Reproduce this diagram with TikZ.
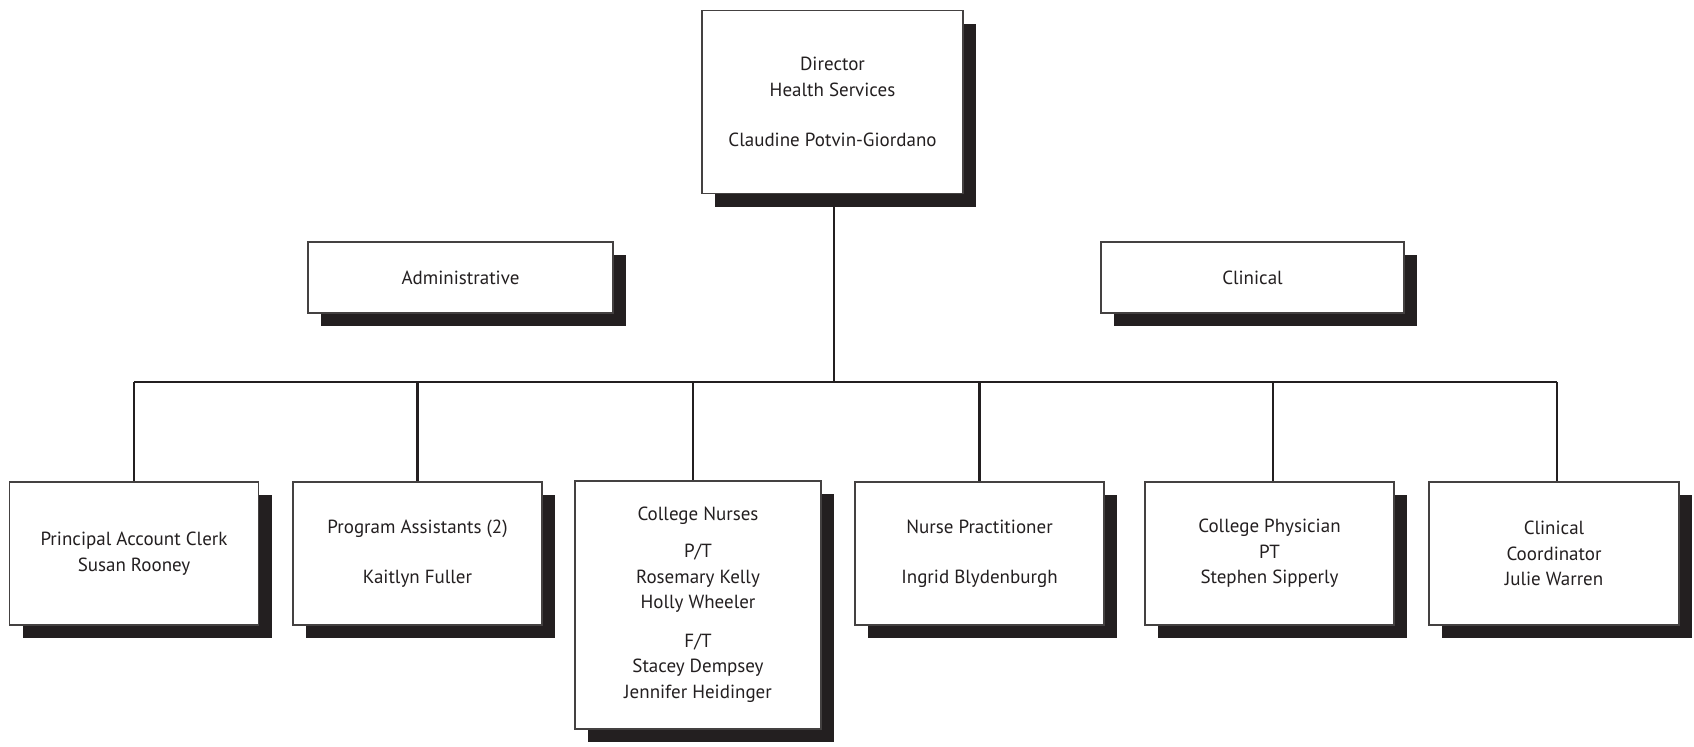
\documentclass[tikz,border=0pt]{standalone}
\usepackage{fontspec}
\setmainfont{PT Sans}
\usetikzlibrary{shadows}
\definecolor{ink}{HTML}{231F20}

\begin{document}
\begin{tikzpicture}[x=0.5pt, y=-0.5pt,
  orgbox/.style={draw=ink!85, line width=0.8pt, fill=white, text=ink, align=center,
    font=\fontsize{9.5}{12.8}\selectfont, inner sep=2pt,
    minimum width=124.5pt, minimum height=71.5pt,
    drop shadow={shadow xshift=6.5pt, shadow yshift=-6.5pt, fill=ink, opacity=1}},
  link/.style={draw=ink, line width=1.2pt}]
\useasboundingbox (0,0) rectangle (1694,746);
% top
\node[orgbox, minimum width=130.5pt, minimum height=91.5pt] (dir) at (832.5,102)
  {Director\\Health Services\\[12.4pt]Claudine Potvin-Giordano};
\node[orgbox, minimum width=152.5pt, minimum height=35.5pt] (admin) at (460.5,277.5) {Administrative};
\node[orgbox, minimum width=151.5pt, minimum height=35.5pt] (clin) at (1252.5,277.5) {Clinical};
% bottom row
\node[orgbox] (clerk) at (134,553.5) {Principal Account Clerk\\Susan Rooney};
\node[orgbox] (assist) at (417.5,553.5) {Program Assistants (2)\\[12.4pt]Kaitlyn Fuller};
\node[orgbox, minimum width=123pt, minimum height=124pt] (nurses) at (698,605)
  {College Nurses\\[5.6pt]P/T\\Rosemary Kelly\\Holly Wheeler\\[6.4pt]F/T\\Stacey Dempsey\\Jennifer Heidinger};
\node[orgbox] (np) at (979.5,553.5) {Nurse Practitioner\\[12.4pt]Ingrid Blydenburgh};
\node[orgbox] (phys) at (1269.5,553.5) {College Physician\\PT\\Stephen Sipperly};
\node[orgbox, minimum width=125pt] (coord) at (1554,553.5) {Clinical\\Coordinator\\Julie Warren};
% connectors
\coordinate (bus) at (834,382);
\draw[link] (dir.south -| bus) -- (bus);
\draw[link] (clerk.north |- bus) -- ([xshift=1.5pt]coord.north |- bus);
\foreach \b/\dx in {clerk/0pt, assist/0pt, nurses/-2.5pt, np/0pt, phys/1.75pt, coord/1.5pt}
  \draw[link] ([xshift=\dx]\b.north |- bus) -- ([xshift=\dx]\b.north);
\end{tikzpicture}
\end{document}
